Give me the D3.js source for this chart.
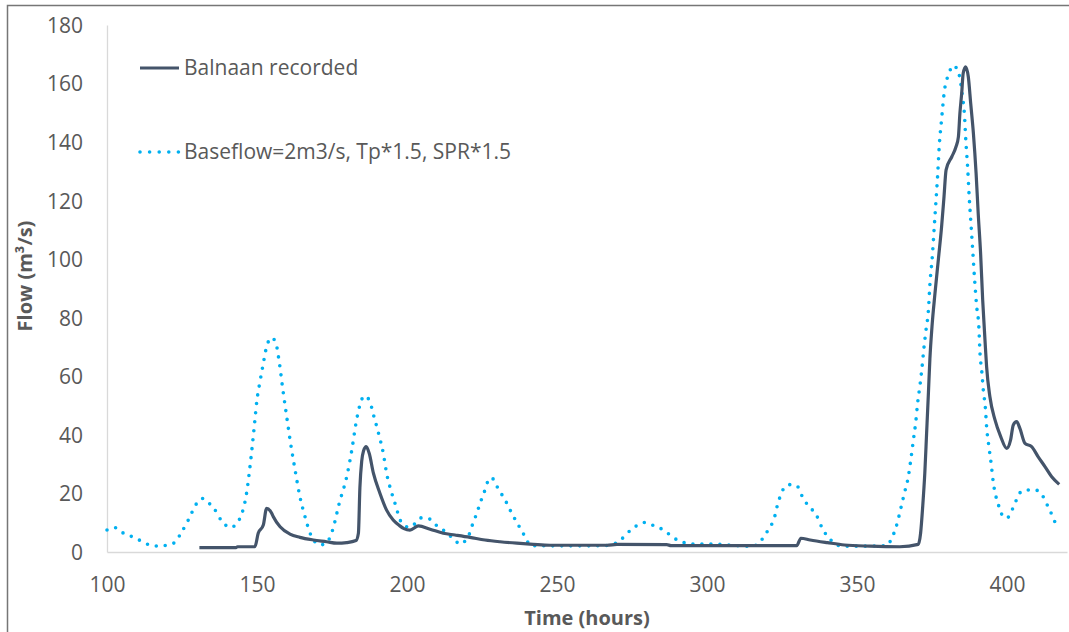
<!DOCTYPE html>
<html>
<head>
<meta charset="utf-8">
<script src="https://cdn.jsdelivr.net/npm/d3@7"></script>
<style>
  body { margin: 0; background: #fff; }
  svg { display: block; font-family: "Open Sans", sans-serif; }
</style>
</head>
<body>
<svg width="1069" height="632"></svg>
<script>
// Balnaan recorded hydrograph
const recordedHours = [130.8, 143, 143.5, 149.3, 150.4, 152.1, 153.2, 154.9, 155.4, 157.7, 161, 164.3, 168.8, 173.2, 176.6, 179.9, 183, 183.8, 184.3, 184.9, 185.5, 186.4, 187.4, 188.8, 191, 193.2, 195.4, 197.5, 199, 201, 203.8, 207.7, 212.1, 216, 221, 226, 231, 236.6, 242.1, 247.7, 266.6, 270, 286.6, 288, 329.9, 331.3, 334.4, 340.1, 345.8, 354.3, 364.3, 370.4, 371.2, 371.9, 372.6, 373.2, 373.8, 374.3, 375, 376, 377.1, 378.2, 379, 379.7, 381.6, 383, 383.8, 384.3, 384.9, 385.4, 386.2, 387.1, 387.9, 388.8, 389.7, 390.4, 391.2, 391.9, 392.4, 392.8, 393.2, 394.3, 396, 397.9, 399.9, 401.2, 402.1, 403.2, 404.3, 406, 408.2, 410.4, 412.7, 414.9, 417.4];
const recordedFlow = [1.5, 1.5, 1.8, 1.8, 6.4, 9.2, 14.9, 13.2, 12.1, 8.6, 6.1, 5, 4.1, 3.5, 3, 3.2, 3.9, 6.4, 22, 31, 34.5, 36, 33.7, 26.9, 20, 14.3, 10.9, 9, 8, 7.5, 8.9, 7.8, 6.4, 5.8, 5, 4.1, 3.5, 3, 2.6, 2.3, 2.3, 2.6, 2.5, 2.2, 2.2, 4.7, 4.1, 3.2, 2.4, 2, 1.8, 2.6, 6.4, 15.5, 26.9, 40.5, 54.2, 66, 77, 88.4, 99.7, 111.1, 121.3, 130.5, 135, 138.4, 141.8, 149.8, 156.7, 163.5, 165.7, 162.3, 153.2, 143, 129.3, 115.7, 102, 86, 77, 70, 63.3, 53, 45.1, 39.4, 35.4, 38.3, 43.4, 44.5, 42.2, 37.1, 36, 32.5, 29.1, 25.7, 23.1];

// simulated: Baseflow=2m3/s, Tp*1.5, SPR*1.5
const simHours = [100, 102.7, 105.2, 107.7, 109.7, 111.9, 114.3, 117.2, 120.1, 122.7, 124.3, 127.1, 129.9, 131.8, 133.8, 135.7, 137.1, 138.8, 140.8, 142.9, 144.3, 145.4, 146.6, 147.4, 148.4, 149.2, 150, 151, 152.1, 153.2, 154.9, 156.3, 157.4, 158.6, 159.9, 161.2, 162.7, 164.3, 166, 167.7, 169.3, 171, 173.2, 175.2, 177.4, 179.9, 181.6, 183, 184.3, 185.8, 187.4, 189, 190.8, 192.1, 193.2, 194.6, 196, 198.2, 200.8, 203, 204.9, 207.7, 209.7, 211.8, 213.8, 215.7, 217.7, 219.6, 221, 221.9, 223, 224, 224.9, 226, 226.9, 228.2, 229.7, 231.2, 232.7, 234, 235.4, 236.8, 238.2, 239.7, 241, 250, 260, 266, 268.6, 270.7, 273, 274.9, 277.1, 279.3, 281.8, 284.1, 286.3, 288.4, 290.7, 293.2, 296, 302, 308, 313.8, 316.6, 318.6, 320.2, 321.8, 322.7, 323.4, 324.3, 325.4, 327.4, 329.9, 332.3, 334.7, 336.6, 338.7, 340.8, 342.3, 345.1, 352, 360, 361.6, 362.7, 363.6, 364.3, 365, 365.7, 367.1, 368, 368.8, 369.6, 370.2, 371, 371.7, 372.3, 373, 373.8, 374.3, 375.1, 375.7, 376.3, 376.9, 377.4, 378.2, 379.1, 380.7, 381.9, 383.4, 384.3, 385.1, 385.8, 386.3, 386.9, 387.4, 388, 388.6, 389.2, 389.9, 390.6, 391, 391.6, 392.1, 392.8, 393.2, 393.9, 394.7, 395.4, 396.6, 397.7, 398.8, 400.2, 401.8, 402.9, 404.1, 406.3, 409.3, 411.6, 412.8, 414.3, 415.4, 416.6];
const simFlow = [7.5, 8.3, 6.6, 5.5, 4.7, 3.4, 2.4, 2.0, 2.4, 3.3, 5.8, 10.9, 16.6, 18.3, 16.8, 14.9, 12.3, 10, 8.4, 9.2, 11.5, 14.6, 20.6, 26.9, 36, 44, 52, 58.2, 64.4, 70.1, 73.2, 71.3, 65, 55.6, 46.2, 37.1, 28, 18.9, 12.1, 6.4, 3.5, 2.4, 3.2, 7.5, 16.6, 25.7, 34.8, 44, 50.2, 53.3, 51.9, 46.2, 39.4, 33.7, 26.9, 21.2, 16.6, 10, 8.4, 10, 11.7, 11.2, 9.2, 7.7, 6, 4.3, 2.7, 4.1, 6.7, 9.6, 12.5, 15.5, 18.2, 21.2, 24, 25.4, 22.9, 20.3, 17.8, 15.1, 12.3, 9.8, 7.2, 4.7, 2.2, 2.1, 2.1, 2.2, 2.6, 3.8, 5.8, 7.9, 9.2, 10.1, 9.2, 8.3, 6.9, 5.2, 3.8, 3, 2.7, 2.7, 2.3, 2.0, 2.4, 4.7, 7.2, 10, 12.6, 15.7, 18.7, 21.4, 23, 22.6, 17.8, 14.9, 12.3, 7.5, 4.7, 3, 2, 2, 2.2, 4.8, 7.5, 10.6, 13.6, 16.6, 19.7, 25.7, 32, 38.3, 44.5, 50.8, 57, 63.3, 69.6, 75.8, 82.5, 91.4, 100.9, 110.2, 119.5, 129, 138.4, 147.8, 157.2, 163.5, 166.1, 165, 161.8, 156, 149.6, 140.1, 131, 121.3, 111.9, 102.6, 93.1, 83.8, 77.2, 67.9, 61.6, 55.3, 49.1, 42.8, 36.5, 30.3, 24, 17.8, 14.6, 11.8, 11.8, 14.6, 17.2, 20, 21.2, 21.2, 19.7, 17.2, 14.3, 11.5, 9];

const xTicks = [100, 150, 200, 250, 300, 350, 400];
const yTicks = [0, 20, 40, 60, 80, 100, 120, 140, 160, 180];
const seriesNames = ["Balnaan recorded", "Baseflow=2m3/s, Tp*1.5, SPR*1.5"];

const svg = d3.select("svg");
const textColor = "#595959";
const fontSize = "21px";

const x = d3.scaleLinear().domain([100, 420]).range([107, 1067]);
const y = d3.scaleLinear().domain([0, 180]).range([552, 25]);

// outer chart frame
svg.append("rect")
    .attr("x", 7.5).attr("y", 5.5)
    .attr("width", 1080).attr("height", 660)
    .attr("fill", "none")
    .attr("stroke", "#767676")
    .attr("stroke-width", 1.5);

// axes
const xAxis = svg.append("g")
    .attr("transform", `translate(0,${y(0)})`)
    .call(d3.axisBottom(x).tickValues(xTicks).tickSize(0));
const yAxis = svg.append("g")
    .attr("transform", `translate(${x(100)},0)`)
    .call(d3.axisLeft(y).tickValues(yTicks).tickSize(0).tickPadding(24));

for (let ax of [xAxis, yAxis]) {
    ax.select(".domain").attr("stroke", "#d9d9d9").attr("stroke-width", 1.3);
    ax.selectAll("text")
        .attr("fill", textColor)
        .style("font-size", fontSize)
        .style("font-family", "'Open Sans', sans-serif");
}
xAxis.selectAll("text").attr("dy", "0.35em").attr("y", 33);
yAxis.selectAll("text").attr("dy", "0.35em");

svg.append("text")
    .attr("x", (x(100) + x(420)) / 2)
    .attr("y", 618)
    .attr("dy", "0.35em")
    .attr("text-anchor", "middle")
    .attr("fill", textColor)
    .style("font-size", "20px")
    .style("font-weight", "bold")
    .text("Time (hours)");

svg.append("text")
    .attr("transform", "translate(25,276) rotate(-90)")
    .attr("dy", "0.35em")
    .attr("text-anchor", "middle")
    .attr("fill", textColor)
    .style("font-size", "20px")
    .style("font-weight", "bold")
    .text("Flow (m³/s)");

const line = d3.line()
    .x(d => x(d[0]))
    .y(d => y(d[1]))
    .curve(d3.curveMonotoneX);

const simData = d3.zip(simHours, simFlow);
const recData = d3.zip(recordedHours, recordedFlow);

svg.append("path")
    .datum(simData)
    .attr("d", line)
    .attr("fill", "none")
    .attr("stroke", "#00b0f0")
    .attr("stroke-width", 3.6)
    .attr("stroke-linecap", "round")
    .attr("stroke-dasharray", "0 9");

svg.append("path")
    .datum(recData)
    .attr("d", line)
    .attr("fill", "none")
    .attr("stroke", "#44546a")
    .attr("stroke-width", 3.2)
    .attr("stroke-linejoin", "round");

// legend
const legend = svg.append("g");
const legendRows = [
    {name: seriesNames[0], y: 68, color: "#44546a", dash: null, width: 3.2},
    {name: seriesNames[1], y: 152, color: "#00b0f0", dash: "0 9.6", width: 3.6}
];
for (let r of legendRows) {
    legend.append("line")
        .attr("x1", 140).attr("x2", 179)
        .attr("y1", r.y).attr("y2", r.y)
        .attr("stroke", r.color)
        .attr("stroke-width", r.width)
        .attr("stroke-linecap", r.dash ? "round" : "butt")
        .attr("stroke-dasharray", r.dash);
    legend.append("text")
        .attr("x", 184).attr("y", r.y)
        .attr("dy", "0.35em")
        .attr("fill", textColor)
        .style("font-size", fontSize)
        .text(r.name);
}
</script>
</body>
</html>
